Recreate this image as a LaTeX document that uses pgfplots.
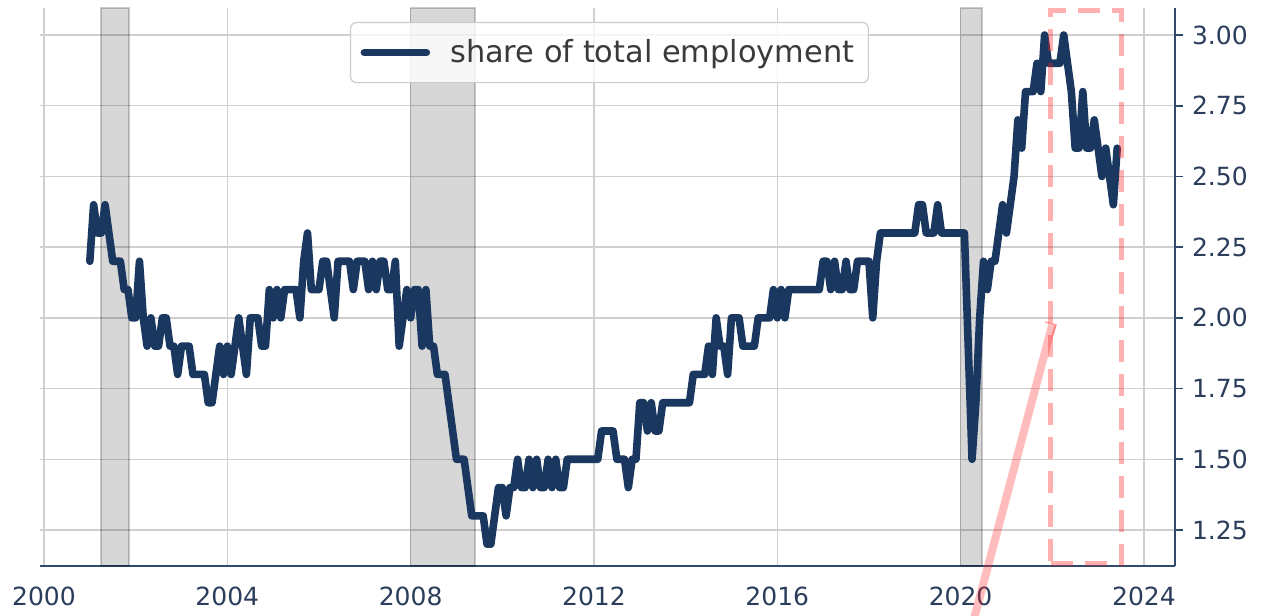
\documentclass[border=0pt]{standalone}
\usepackage{pgfplots}
\pgfplotsset{compat=1.18}
\usepackage{pgfplotstable}
\usepackage{fontspec}
\setmainfont{DejaVu Sans}
\definecolor{navy}{HTML}{1A3760}
\definecolor{spine}{HTML}{2F4A6D}
\definecolor{ticktext}{HTML}{2B3D5B}
\definecolor{gridc}{HTML}{CFCFCF}
\definecolor{legtext}{HTML}{3A3A3A}
\definecolor{pinkred}{HTML}{FF2020}

% k = months since Jan 2001, v = share of total employment
\pgfplotstableread{
k v
0 2.2
1 2.4
2 2.3
3 2.3
4 2.4
5 2.3
6 2.2
7 2.2
8 2.2
9 2.1
10 2.1
11 2.0
12 2.0
13 2.2
14 2.0
15 1.9
16 2.0
17 1.9
18 1.9
19 2.0
20 2.0
21 1.9
22 1.9
23 1.8
24 1.9
25 1.9
26 1.9
27 1.8
28 1.8
29 1.8
30 1.8
31 1.7
32 1.7
33 1.8
34 1.9
35 1.8
36 1.9
37 1.8
38 1.9
39 2.0
40 1.9
41 1.8
42 2.0
43 2.0
44 2.0
45 1.9
46 1.9
47 2.1
48 2.0
49 2.1
50 2.0
51 2.1
52 2.1
53 2.1
54 2.1
55 2.0
56 2.2
57 2.3
58 2.1
59 2.1
60 2.1
61 2.2
62 2.2
63 2.1
64 2.0
65 2.2
66 2.2
67 2.2
68 2.2
69 2.1
70 2.2
71 2.2
72 2.2
73 2.1
74 2.2
75 2.1
76 2.2
77 2.2
78 2.1
79 2.1
80 2.2
81 1.9
82 2.0
83 2.1
84 2.0
85 2.1
86 2.1
87 1.9
88 2.1
89 1.9
90 1.9
91 1.8
92 1.8
93 1.8
94 1.7
95 1.6
96 1.5
97 1.5
98 1.5
99 1.4
100 1.3
101 1.3
102 1.3
103 1.3
104 1.2
105 1.2
106 1.3
107 1.4
108 1.4
109 1.3
110 1.4
111 1.4
112 1.5
113 1.4
114 1.4
115 1.5
116 1.4
117 1.5
118 1.4
119 1.4
120 1.5
121 1.4
122 1.5
123 1.4
124 1.4
125 1.5
126 1.5
127 1.5
128 1.5
129 1.5
130 1.5
131 1.5
132 1.5
133 1.5
134 1.6
135 1.6
136 1.6
137 1.6
138 1.5
139 1.5
140 1.5
141 1.4
142 1.5
143 1.5
144 1.7
145 1.7
146 1.6
147 1.7
148 1.6
149 1.6
150 1.7
151 1.7
152 1.7
153 1.7
154 1.7
155 1.7
156 1.7
157 1.7
158 1.8
159 1.8
160 1.8
161 1.8
162 1.9
163 1.8
164 2.0
165 1.9
166 1.9
167 1.8
168 2.0
169 2.0
170 2.0
171 1.9
172 1.9
173 1.9
174 1.9
175 2.0
176 2.0
177 2.0
178 2.0
179 2.1
180 2.0
181 2.1
182 2.0
183 2.1
184 2.1
185 2.1
186 2.1
187 2.1
188 2.1
189 2.1
190 2.1
191 2.1
192 2.2
193 2.2
194 2.1
195 2.2
196 2.1
197 2.1
198 2.2
199 2.1
200 2.1
201 2.2
202 2.2
203 2.2
204 2.2
205 2.0
206 2.2
207 2.3
208 2.3
209 2.3
210 2.3
211 2.3
212 2.3
213 2.3
214 2.3
215 2.3
216 2.3
217 2.4
218 2.4
219 2.3
220 2.3
221 2.3
222 2.4
223 2.3
224 2.3
225 2.3
226 2.3
227 2.3
228 2.3
229 2.3
230 1.9
231 1.5
232 1.7
233 2.0
234 2.2
235 2.1
236 2.2
237 2.2
238 2.3
239 2.4
240 2.3
241 2.4
242 2.5
243 2.7
244 2.6
245 2.8
246 2.8
247 2.8
248 2.9
249 2.8
250 3.0
251 2.9
252 2.9
253 2.9
254 2.9
255 3.0
256 2.9
257 2.8
258 2.6
259 2.6
260 2.8
261 2.6
262 2.6
263 2.7
264 2.6
265 2.5
266 2.6
267 2.5
268 2.4
269 2.6
}\datatable

\begin{document}
\begin{tikzpicture}
\begin{axis}[
  at={(0,0)}, anchor=south west,
  scale only axis, width=567.5pt, height=279pt,
  xmin=1999.913, xmax=2024.678, ymin=1.1227, ymax=3.0955,
  axis x line*=bottom, axis y line*=right,
  axis line style={spine, line width=1pt},
  xtick={2000,2004,...,2024},
  ytick={1.25,1.5,1.75,2.0,2.25,2.5,2.75,3.0},
  grid=major, major grid style={gridc, line width=0.75pt},
  tick align=outside, major tick length=4pt,
  tick style={spine, line width=0.8pt},
  xtick style={draw=none},
  /pgf/number format/assume math mode=true,
  x tick label style={/pgf/number format/1000 sep={}, font=\fontsize{12.5}{15}\selectfont, text=ticktext, yshift=-3pt},
  y tick label style={/pgf/number format/fixed, /pgf/number format/fixed zerofill, /pgf/number format/precision=2, font=\fontsize{12.5}{15}\selectfont, text=ticktext, xshift=1pt},
  clip=false,
  legend style={at={(rel axis cs:0.2731,0.975)}, anchor=north west, draw=gray!40, rounded corners=3pt, fill=white, fill opacity=0.8, text opacity=1, font=\fontsize{15.2}{18}\selectfont, text=legtext, line width=0.6pt, inner xsep=5pt, inner ysep=6.5pt},
  legend image code/.code={\draw[#1, line width=3.8pt, line cap=round] (0pt,0pt) -- (31pt,0pt); \path (39pt,0pt);},
]
% recession shading
\addplot[forget plot, draw=black, draw opacity=0.2, fill=black, fill opacity=0.155, line width=0.8pt] coordinates {(2001.24,1.1227) (2001.85,1.1227) (2001.85,3.0955) (2001.24,3.0955)} -- cycle;
\addplot[forget plot, draw=black, draw opacity=0.2, fill=black, fill opacity=0.155, line width=0.8pt] coordinates {(2008.0,1.1227) (2009.4,1.1227) (2009.4,3.0955) (2008.0,3.0955)} -- cycle;
\addplot[forget plot, draw=black, draw opacity=0.2, fill=black, fill opacity=0.155, line width=0.8pt] coordinates {(2020.0,1.1227) (2020.47,1.1227) (2020.47,3.0955) (2020.0,3.0955)} -- cycle;
% series
\addplot[navy, line width=3.8pt, line join=round, line cap=round] table[x expr=2001+\thisrow{k}/12, y=v] {\datatable};
\addlegendentry{share of total employment}
% highlight rectangle
\addplot[forget plot, pinkred, draw opacity=0.35, line width=2.5pt, dash pattern=on 11pt off 6pt] coordinates {(2021.97,1.133) (2023.52,1.133) (2023.52,3.088) (2021.97,3.088)} -- cycle;
% arrow
\addplot[forget plot, pinkred, opacity=0.3, line width=4pt] coordinates {(2020.20,0.88) (2022.0,1.975)};
\addplot[forget plot, pinkred, opacity=0.45, line width=0.8pt] coordinates {(2021.85,1.985) (2022.08,1.975) (2022.0,1.94)};
\end{axis}
\pgfresetboundingbox
\path[use as bounding box] (-20pt,-25pt) rectangle (613pt,283pt);
\end{tikzpicture}
\end{document}
